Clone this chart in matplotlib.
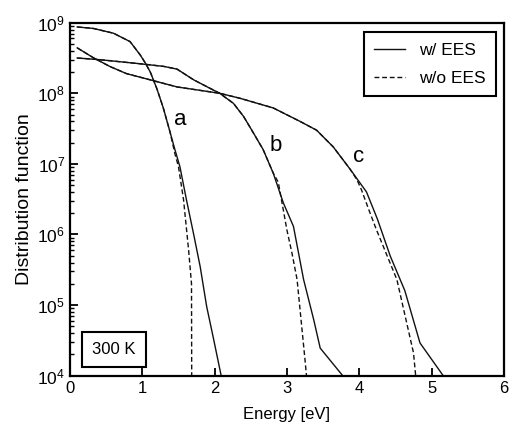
import matplotlib
matplotlib.use("Agg")
import matplotlib.pyplot as plt
from matplotlib.ticker import LogLocator, NullFormatter

plt.rcParams['font.family'] = ['Liberation Sans', 'DejaVu Sans']
plt.rcParams['mathtext.fontset'] = 'custom'
plt.rcParams['mathtext.rm'] = 'Liberation Sans'
plt.rcParams['mathtext.it'] = 'Liberation Sans:italic'

# curve a
Ea_s = [0.1, 0.32, 0.6, 0.83, 0.97, 1.04, 1.11, 1.20, 1.29, 1.38, 1.45, 1.52, 1.61, 1.706, 1.80, 1.89, 1.98, 2.09]
Fa_s = [8.7e8, 8.3e8, 7.1e8, 5.4e8, 3.5e8, 2.7e8, 2.0e8, 1.17e8, 6.2e7, 2.9e7, 1.6e7, 9.1e6, 3.1e6, 1.05e6,
        3.5e5, 9.5e4, 3.5e4, 1.0e4]
Ea_d = [0.1, 0.32, 0.6, 0.83, 0.97, 1.04, 1.11, 1.20, 1.29, 1.38, 1.45, 1.50, 1.57, 1.64, 1.68, 1.685]
Fa_d = [8.7e8, 8.3e8, 7.1e8, 5.4e8, 3.5e8, 2.7e8, 2.0e8, 1.17e8, 6.2e7, 2.9e7, 1.4e7, 9.1e6, 3.1e6, 6.0e5,
        2.0e5, 1.0e3]

# curve b
Eb_s = [0.1, 0.4, 0.69, 1.0, 1.3, 1.48, 1.71, 1.94, 2.07, 2.26, 2.40, 2.54, 2.67, 2.81, 2.95, 3.09, 3.23,
        3.37, 3.46, 3.77]
Fb_s = [3.16e8, 3.0e8, 2.8e8, 2.6e8, 2.4e8, 2.2e8, 1.55e8, 1.17e8, 1.0e8, 7.2e7, 4.7e7, 2.7e7, 1.6e7, 7.4e6,
        2.8e6, 1.3e6, 2.3e5, 6.2e4, 2.45e4, 1.0e4]
Eb_d = [0.1, 0.4, 0.69, 1.0, 1.3, 1.48, 1.71, 1.94, 2.07, 2.26, 2.40, 2.54, 2.67, 2.81, 2.88, 3.0, 3.07,
        3.14, 3.25, 3.27]
Fb_d = [3.16e8, 3.0e8, 2.8e8, 2.6e8, 2.4e8, 2.2e8, 1.55e8, 1.17e8, 1.0e8, 7.2e7, 4.7e7, 2.7e7, 1.6e7, 7.4e6,
        5.5e6, 1.15e6, 5.4e5, 2.3e5, 1.66e4, 1.0e4]

# curve c
Ec_s = [0.1, 0.32, 0.55, 0.78, 1.11, 1.48, 2.07, 2.35, 2.81, 3.18, 3.41, 3.64, 3.87, 4.10, 4.25, 4.43, 4.63,
        4.84, 5.16]
Fc_s = [4.4e8, 3.2e8, 2.4e8, 1.9e8, 1.55e8, 1.23e8, 1.0e8, 8.5e7, 6.2e7, 4.0e7, 3.0e7, 1.74e7, 8.5e6, 4.0e6,
        1.66e6, 4.9e5, 1.6e5, 2.9e4, 1.0e4]
Ec_d = [0.1, 0.32, 0.55, 0.78, 1.11, 1.48, 2.07, 2.35, 2.81, 3.18, 3.41, 3.64, 3.87, 3.97, 4.03, 4.15, 4.24,
        4.52, 4.75, 4.78]
Fc_d = [4.4e8, 3.2e8, 2.4e8, 1.9e8, 1.55e8, 1.23e8, 1.0e8, 8.5e7, 6.2e7, 4.0e7, 3.0e7, 1.74e7, 8.5e6, 5.9e6,
        4.3e6, 2.0e6, 1.15e6, 2.3e5, 2.1e4, 1.0e4]

curve_labels = ['a', 'b', 'c']
label_pos = [(1.52, 4.3e7), (2.84, 1.85e7), (3.99, 1.26e7)]


fig = plt.figure(figsize=(5.1, 4.3), dpi=100)
ax = fig.add_axes([0.1373, 0.1265, 0.8507, 0.8207])

lw = 1.0
dash = (0, (3.5, 2))
ax.plot(Ea_s, Fa_s, color='#111111', lw=lw, label='w/ EES')
ax.plot(Ea_d, Fa_d, color='#111111', lw=lw, ls=dash, label='w/o EES')
ax.plot(Eb_s, Fb_s, color='#111111', lw=lw)
ax.plot(Eb_d, Fb_d, color='#111111', lw=lw, ls=dash)
ax.plot(Ec_s, Fc_s, color='#111111', lw=lw)
ax.plot(Ec_d, Fc_d, color='#111111', lw=lw, ls=dash)

ax.set_yscale('log')
ax.set_xlim(0, 6)
ax.set_ylim(1e4, 1e9)

for lab, (x, y) in zip(curve_labels, label_pos):
    ax.text(x, y, lab, fontsize=16, ha='center', va='center')

ax.text(0.101, 0.075, '300 K', transform=ax.transAxes, fontsize=12, ha='center', va='center',
        bbox=dict(boxstyle='square,pad=0.6', fc='white', ec='black', lw=1.5))

leg = ax.legend(loc='upper right', bbox_to_anchor=(1 - 7.5 / 434, 1 - 9.6 / 353), borderaxespad=0,
                fontsize=12.5, handlelength=1.8, borderpad=0.6,
                fancybox=False, framealpha=1, edgecolor='black', labelspacing=0.74)
leg.get_frame().set_linewidth(1.5)

ax.set_xticks([0, 1, 2, 3, 4, 5, 6])
ax.yaxis.set_major_locator(LogLocator(base=10, numticks=10))
ax.yaxis.set_minor_locator(LogLocator(base=10, subs=range(2, 10), numticks=20))
ax.yaxis.set_minor_formatter(NullFormatter())
ax.tick_params(axis='both', which='major', direction='in', length=6, width=1.3, labelsize=12,
               top=False, right=False)
ax.tick_params(axis='y', which='major', labelsize=12.5)
ax.tick_params(axis='y', which='minor', direction='in', length=3, width=1.0, right=False)
ax.tick_params(axis='x', which='major', pad=4)
for s in ax.spines.values():
    s.set_linewidth(1.6)

ax.set_xlabel('Energy [eV]', fontsize=12, labelpad=8)
ax.set_ylabel('Distribution function', fontsize=14, labelpad=3)

fig.savefig('out.png', dpi=100)
